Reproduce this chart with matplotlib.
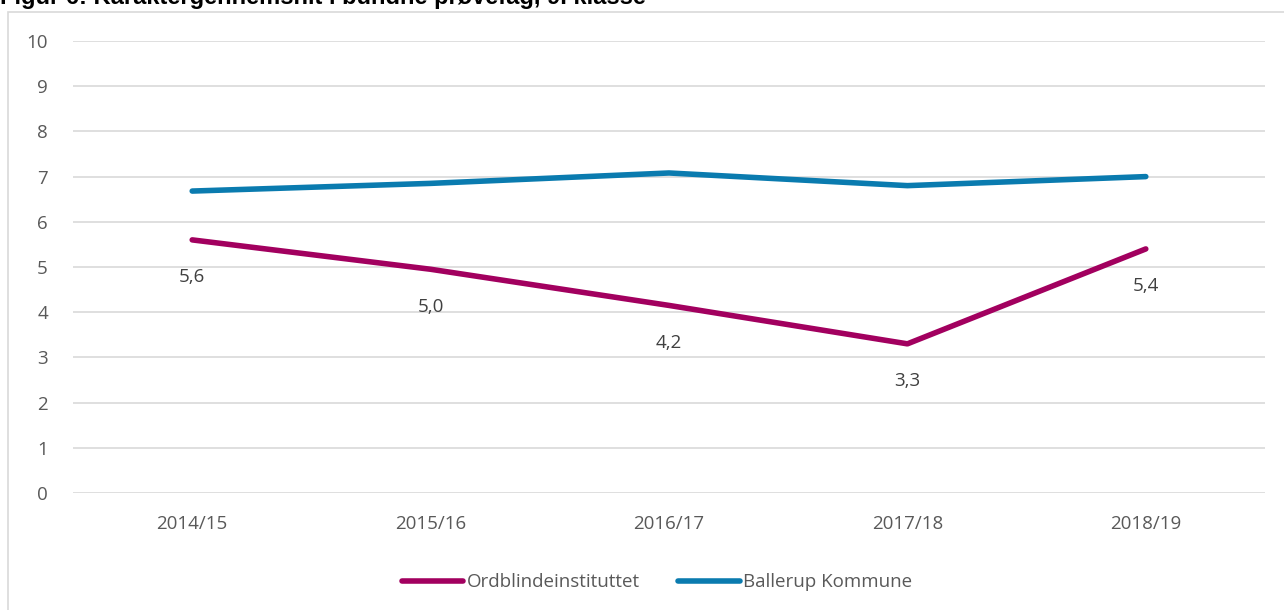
import matplotlib.pyplot as plt
from matplotlib.patches import Rectangle

# data
years = ["2014/15", "2015/16", "2016/17", "2017/18", "2018/19"]
ordblinde = [5.6, 4.95, 4.15, 3.3, 5.4]
ordblinde_labels = ["5,6", "5,0", "4,2", "3,3", "5,4"]
ballerup = [6.68, 6.85, 7.08, 6.8, 7.0]

C_ORD = "#A2005F"
C_BAL = "#0A7BAF"
TXT = "#595959"

plt.rcParams["font.family"] = ["Open Sans", "DejaVu Sans"]

fig = plt.figure(figsize=(12.84, 6.10), dpi=100)

# chart border
fig.patches.append(Rectangle((8 / 1284, -0.05), 1.1, 1 - 12 / 610 + 0.05,
                             transform=fig.transFigure, fill=False,
                             edgecolor="#D9D9D9", linewidth=1.2))

# cropped figure caption
fig.text(0.0, 1 - 4 / 610, "Figur 6: Karaktergennemsnit i bundne prøvefag, 9. klasse",
         fontsize=17, fontweight="bold", family="Liberation Sans",
         color="black", va="baseline", ha="left")

ax = fig.add_axes([73 / 1284, 1 - 493 / 610, (1265 - 73) / 1284, (493 - 41) / 610])
x = list(range(len(years)))

ax.plot(x, ordblinde, color=C_ORD, linewidth=4, solid_capstyle="round",
        label="Ordblindeinstituttet")
ax.plot(x, ballerup, color=C_BAL, linewidth=4, solid_capstyle="round",
        label="Ballerup Kommune")

for xi, yi, lab in zip(x, ordblinde, ordblinde_labels):
    ax.annotate(lab, (xi, yi), xytext=(0, -27), textcoords="offset points",
                ha="center", va="center", fontsize=13.5, color="#404040")

ax.set_xlim(-0.5, len(years) - 0.5)
ax.set_ylim(0, 10)
ax.set_yticks(range(0, 11))
ax.set_xticks(x)
ax.set_xticklabels(years)
ax.tick_params(length=0, labelsize=13.5, labelcolor=TXT)
ax.tick_params(axis="y", pad=18)
ax.tick_params(axis="x", pad=16)
ax.grid(axis="y", color="#D9D9D9", linewidth=1.2)
ax.set_axisbelow(True)
for s in ax.spines.values():
    s.set_visible(False)

leg = ax.legend(loc="upper center", bbox_to_anchor=(0.49, -0.14), ncol=2,
                frameon=False, fontsize=13.5, handlelength=3.3, handletextpad=0.2,
                columnspacing=2.0)
for t in leg.get_texts():
    t.set_color(TXT)

fig.savefig("out.png", dpi=100)
